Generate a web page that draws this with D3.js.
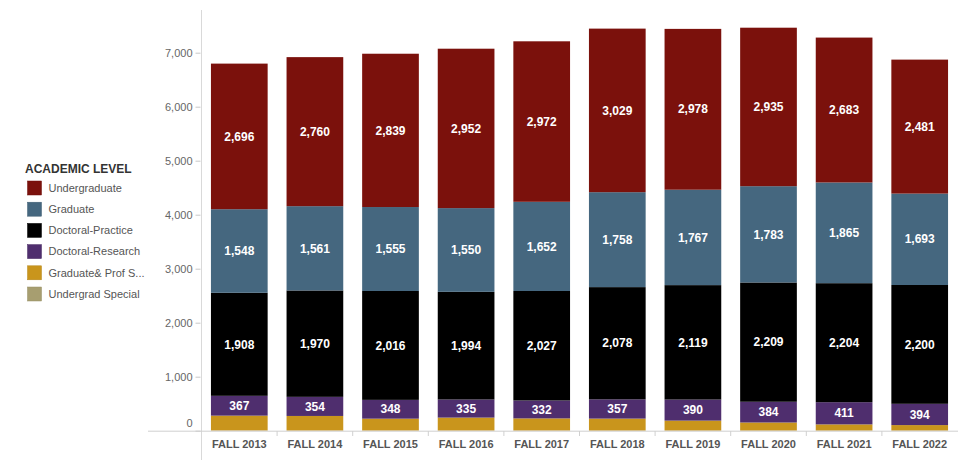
<!DOCTYPE html>
<html>
<head>
<meta charset="utf-8">
<script src="https://cdn.jsdelivr.net/npm/d3@7"></script>
<style>
  html, body { margin: 0; padding: 0; background: #fff; }
  svg { display: block; font-family: Arial, "Liberation Sans", sans-serif; }
</style>
</head>
<body>
<svg id="chart" width="978" height="473"></svg>
<script>
const categories = ["FALL 2013","FALL 2014","FALL 2015","FALL 2016","FALL 2017","FALL 2018","FALL 2019","FALL 2020","FALL 2021","FALL 2022"];
const seriesNames = ["Undergraduate","Graduate","Doctoral-Practice","Doctoral-Research","Graduate& Prof S...","Undergrad Special"];
const seriesColors = ["#7b110c","#45677f","#000000","#4f2e6e","#c9951c","#a79e70"];
const undergraduate = [2696,2760,2839,2952,2972,3029,2978,2935,2683,2481];
const graduate = [1548,1561,1555,1550,1652,1758,1767,1783,1865,1693];
const doctoralPractice = [1908,1970,2016,1994,2027,2078,2119,2209,2204,2200];
const doctoralResearch = [367,354,348,335,332,357,390,384,411,394];
const gradProfSpecial = [275,270,220,240,225,222,185,150,115,102];
const undergradSpecial = [4,3,3,3,3,2,2,2,2,2];
const yTicks = [0,1000,2000,3000,4000,5000,6000,7000];
const showLabels = [true,true,true,true,false,false];

const seriesValues = [undergraduate, graduate, doctoralPractice, doctoralResearch, gradProfSpecial, undergradSpecial];
// stack bottom to top: last legend entry at bottom
const keys = seriesNames.slice().reverse();
const rows = categories.map((c, i) => {
  const r = { cat: c };
  seriesNames.forEach((s, j) => r[s] = seriesValues[j][i]);
  return r;
});
const stack = d3.stack().keys(keys)(rows);
const color = d3.scaleOrdinal().domain(seriesNames).range(seriesColors);

const svg = d3.select("#chart");
const x = d3.scaleBand().domain(categories).range([201.5, 957.5]).paddingInner(0.25).paddingOuter(0.125);
const y = d3.scaleLinear().domain([0, 7000]).range([430.7, 52.7]);

// axis lines
svg.append("line").attr("x1", 201.5).attr("x2", 201.5).attr("y1", 10).attr("y2", 460)
  .attr("stroke", "#d9d9d9").attr("stroke-width", 1);

// y axis ticks and labels
const yAxis = d3.axisLeft(y).tickValues(yTicks).tickFormat(d3.format(",")).tickSize(5).tickPadding(3);
const yg = svg.append("g").attr("transform", "translate(200.5,0)").call(yAxis);
yg.select(".domain").remove();
yg.selectAll(".tick line").attr("stroke", "#c8c8c8");
yg.selectAll(".tick text").attr("fill", "#666").style("font-size", "11px")
  .style("font-family", "Arial, 'Liberation Sans', sans-serif");
yg.selectAll(".tick").filter(d => d === 0).select("text").attr("dy", "-0.4em");

// bars
const layers = svg.append("g").selectAll("g").data(stack).join("g").attr("fill", d => color(d.key));
layers.selectAll("rect").data(d => d).join("rect")
  .attr("x", d => x(d.data.cat))
  .attr("width", x.bandwidth())
  .attr("y", d => y(d[1]))
  .attr("height", d => Math.max(0, y(d[0]) - y(d[1])));

// segment labels
stack.forEach(layer => {
  const idx = seriesNames.indexOf(layer.key);
  if (!showLabels[idx]) return;
  svg.append("g").selectAll("text").data(layer).join("text")
    .attr("x", d => x(d.data.cat) + x.bandwidth() / 2)
    .attr("y", d => (y(d[0]) + y(d[1])) / 2)
    .attr("dy", "0.35em")
    .attr("text-anchor", "middle")
    .attr("fill", "#fff")
    .style("font-size", "12px")
    .style("font-weight", "bold")
    .text(d => d3.format(",")(d.data[layer.key]));
});

// baseline
svg.append("line").attr("x1", 148).attr("x2", 958).attr("y1", 431.2).attr("y2", 431.2)
  .attr("stroke", "#cfcfcf").attr("stroke-width", 1);

// x axis
const xg = svg.append("g").attr("transform", "translate(0,431)");
const step = x.step();
const r0 = x.range()[0];
xg.selectAll("line.sep").data(d3.range(1, categories.length)).join("line")
  .attr("class", "sep")
  .attr("x1", i => r0 + i * step).attr("x2", i => r0 + i * step)
  .attr("y1", 0).attr("y2", 5).attr("stroke", "#d0d0d0");
xg.selectAll("text").data(categories).join("text")
  .attr("x", d => x(d) + x.bandwidth() / 2)
  .attr("y", 17)
  .attr("text-anchor", "middle")
  .attr("fill", "#555")
  .style("font-size", "11px")
  .style("font-weight", "bold")
  .text(d => d);

// legend
const lg = svg.append("g");
lg.append("text").attr("x", 25).attr("y", 172.5).attr("fill", "#333")
  .style("font-size", "12px").style("font-weight", "bold").text("ACADEMIC LEVEL");
const items = lg.selectAll("g.item").data(seriesNames).join("g").attr("class", "item")
  .attr("transform", (d, i) => `translate(27.5,${181 + i * 21.2})`);
items.append("rect").attr("width", 14).attr("height", 14).attr("fill", d => color(d))
  .attr("stroke", d => d3.color(color(d)).darker(0.3)).attr("stroke-width", 0.5);
items.append("text").attr("x", 21).attr("y", 7).attr("dy", "0.35em").attr("fill", "#555")
  .style("font-size", "11px").text(d => d);
</script>
</body>
</html>
